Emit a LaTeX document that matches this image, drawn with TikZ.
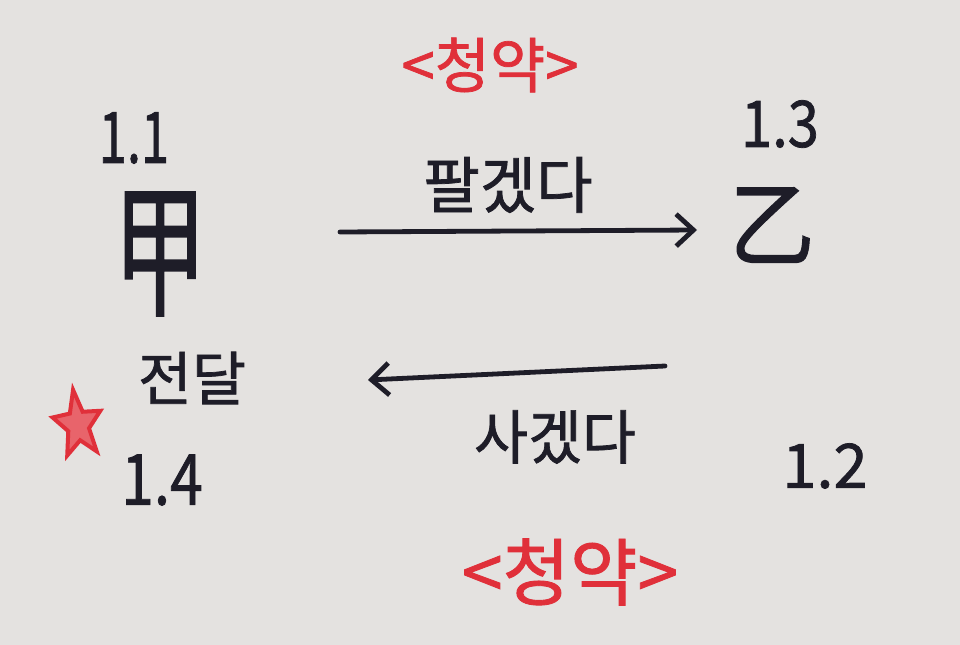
\documentclass[tikz,border=0pt]{standalone}
\usepackage{fontspec}
\setmainfont{Noto Sans CJK KR}[BoldFont={Noto Sans CJK KR},BoldFeatures={FakeBold=1.2}]
\usetikzlibrary{arrows.meta,shapes.geometric}
\definecolor{paper}{HTML}{E4E2E0}
\definecolor{ink}{HTML}{1E1D28}
\definecolor{redink}{HTML}{E0303A}
\begin{document}
\begin{tikzpicture}[x=0.75pt,y=-0.75pt,
  lbl/.style={text=ink,inner sep=0pt},
  redlbl/.style={text=redink,inner sep=0pt},
  conn/.style={draw=ink,line width=3.6pt,line cap=round,-{Straight Barb[length=13pt,width=24pt,line width=3.6pt]}}]
\fill[paper] (0,0) rectangle (960,645);
\useasboundingbox (0,0) rectangle (960,645);
% red titles
\node[redlbl,font=\fontsize{45}{45}\selectfont\bfseries] (top) at (490,65) {<청약>};
\node[redlbl,font=\fontsize{55}{55}\selectfont\bfseries] (bot) at (570,572) {<청약>};
% parties
\node[lbl,font=\fontsize{38}{38}\selectfont\bfseries,yscale=1.4] (n11) at (134,138) {1.1};
\node[lbl,font=\fontsize{70}{70}\selectfont\bfseries,yscale=1.55] (gap) at (160,254) {甲};
\node[lbl,font=\fontsize{42}{42}\selectfont\bfseries,yscale=1.15] (n13) at (780,124) {1.3};
\node[lbl,font=\fontsize{64}{64}\selectfont\bfseries,yscale=1.1] (eul) at (772,225) {乙};
\node[lbl,font=\fontsize{46}{46}\selectfont\bfseries] (sell) at (508,185) {팔겠다};
\node[lbl,font=\fontsize{44}{44}\selectfont\bfseries] (buy) at (555,437) {사겠다};
\node[lbl,font=\fontsize{44}{44}\selectfont\bfseries] (deliv) at (192,378) {전달};
\node[lbl,font=\fontsize{44}{44}\selectfont\bfseries,yscale=1.2] (n14) at (162,480) {1.4};
\node[lbl,font=\fontsize{46}{46}\selectfont\bfseries] (n12) at (825,466) {1.2};
\node[star,star points=5,star point ratio=2.3,draw=redink,fill=redink!75,line width=3pt,minimum size=38pt,inner sep=0pt,rotate=8,yscale=1.4] (mark) at (78,425) {};
% connectors
\coordinate (a1s) at (340,232);
\coordinate (a1e) at (697,230);
\coordinate (b1s) at (665,366);
\coordinate (b1e) at (368,380);
\draw[conn] (a1s) -- (a1e);
\draw[conn] (b1s) -- (b1e);
\end{tikzpicture}
\end{document}
